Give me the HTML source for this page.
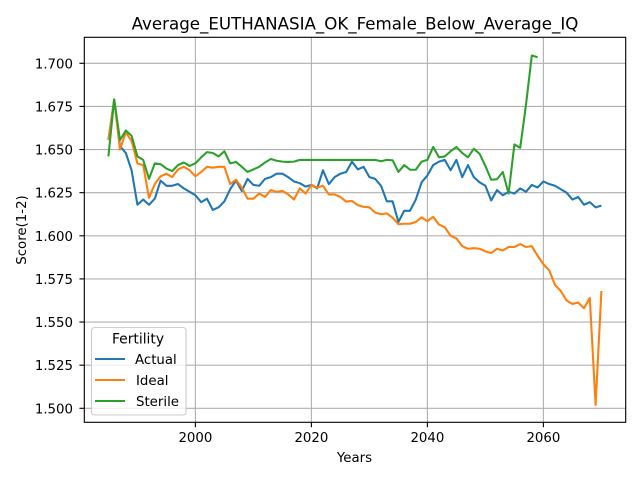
<!DOCTYPE html>
<html>
<head>
<meta charset="utf-8">
<style>
html,body{margin:0;padding:0;background:#fff;width:640px;height:480px;overflow:hidden}
svg{display:block;font-family:"DejaVu Sans","Liberation Sans",sans-serif;fill:#000}
</style>
</head>
<body>
<svg id="chart" width="640" height="480" viewBox="0 0 640 480" xmlns="http://www.w3.org/2000/svg">
<rect x="0" y="0" width="640" height="480" fill="#ffffff"/>
<g id="grid"></g>
<g id="series"></g>
<g id="axes"></g>
<text x="355" y="29.5" font-size="16.67" text-anchor="middle">Average_EUTHANASIA_OK_Female_Below_Average_IQ</text>
<text x="354.5" y="462" font-size="13.33" text-anchor="middle">Years</text>
<text transform="translate(26,230) rotate(-90)" font-size="13.33" text-anchor="middle">Score(1-2)</text>
<g id="legend">
<rect x="91.5" y="327.5" width="94.5" height="87.5" rx="3" ry="3" fill="#ffffff" fill-opacity="0.8" stroke="#cccccc" stroke-width="1.1"/>
<text x="138" y="343.5" font-size="13.89" text-anchor="middle">Fertility</text>
<line x1="95" x2="125" y1="359" y2="359" stroke="#1f77b4" stroke-width="2.08"/>
<text x="135" y="364" font-size="13.33">Actual</text>
<line x1="95" x2="125" y1="380" y2="380" stroke="#ff7f0e" stroke-width="2.08"/>
<text x="136" y="385" font-size="13.33">Ideal</text>
<line x1="95" x2="125" y1="401" y2="401" stroke="#2ca02c" stroke-width="2.08"/>
<text x="136" y="406" font-size="13.33">Sterile</text>
</g>
</svg>
<script>
var startYear = 1985;
var xTickValues = [2000, 2020, 2040, 2060];
var yTickValues = [1.500, 1.525, 1.550, 1.575, 1.600, 1.625, 1.650, 1.675, 1.700];
var actualValues = [1.6555,1.679,1.652,1.648,1.638,1.618,1.621,1.618,1.6215,1.632,1.629,1.629,1.630,1.6275,1.6255,1.6235,1.6195,1.6215,1.615,1.6165,1.620,1.627,1.632,1.626,1.633,1.6295,1.629,1.633,1.634,1.636,1.636,1.634,1.6315,1.6305,1.6285,1.6295,1.6275,1.638,1.630,1.634,1.636,1.637,1.643,1.6385,1.640,1.634,1.633,1.629,1.620,1.620,1.608,1.6145,1.6145,1.621,1.631,1.635,1.641,1.643,1.644,1.638,1.644,1.634,1.641,1.634,1.631,1.629,1.6205,1.6265,1.6235,1.6255,1.6245,1.6275,1.6255,1.6295,1.628,1.6315,1.630,1.629,1.627,1.625,1.621,1.6225,1.618,1.6195,1.6165,1.6175];
var idealValues = [1.6555,1.679,1.650,1.660,1.655,1.642,1.641,1.622,1.630,1.6345,1.636,1.634,1.6385,1.640,1.638,1.6345,1.637,1.640,1.6395,1.640,1.640,1.630,1.6325,1.628,1.6215,1.6215,1.6245,1.6225,1.6265,1.6255,1.626,1.624,1.621,1.6275,1.6245,1.6295,1.628,1.629,1.624,1.624,1.6225,1.6198,1.6202,1.6178,1.6168,1.6165,1.6135,1.6125,1.613,1.6105,1.6067,1.607,1.607,1.608,1.6107,1.6085,1.611,1.6065,1.605,1.600,1.5985,1.594,1.5925,1.5928,1.5925,1.591,1.590,1.5925,1.5915,1.5935,1.5935,1.5952,1.5935,1.594,1.5885,1.5835,1.580,1.5715,1.568,1.5625,1.5605,1.5613,1.558,1.564,1.502,1.568];
var sterileValues = [1.646,1.679,1.6555,1.661,1.658,1.646,1.644,1.633,1.642,1.6415,1.639,1.6375,1.641,1.6425,1.6405,1.642,1.6455,1.6485,1.648,1.646,1.649,1.642,1.6428,1.640,1.637,1.6385,1.640,1.6425,1.6445,1.6435,1.643,1.6428,1.643,1.644,1.644,1.644,1.644,1.644,1.644,1.644,1.644,1.644,1.644,1.644,1.644,1.644,1.644,1.6432,1.644,1.6438,1.637,1.641,1.6383,1.6383,1.643,1.644,1.6515,1.6455,1.646,1.649,1.6515,1.648,1.6455,1.6505,1.6475,1.6405,1.6325,1.6328,1.637,1.6245,1.653,1.651,1.676,1.7045,1.7035];

var NS = 'http://www.w3.org/2000/svg';
var plotLeft = 84.3, plotRight = 625.7, plotTop = 37.3, plotBottom = 422.3;

function xScale(year) { return 195.4 + (year - 2000) * 5.8; }
function yScale(v) { return 408.3 - (v - 1.5) * 1725; }

function make(tag, attrs, parent) {
  var el = document.createElementNS(NS, tag);
  for (var k in attrs) { el.setAttribute(k, attrs[k]); }
  parent.appendChild(el);
  return el;
}

var gridGroup = document.getElementById('grid');
var axesGroup = document.getElementById('axes');
var seriesGroup = document.getElementById('series');

xTickValues.forEach(function (t) {
  var x = xScale(t);
  var g = make('line', {x1: x, x2: x, y1: plotTop, y2: plotBottom, stroke: '#b0b0b0', 'stroke-width': 1.11}, gridGroup);
  
  
  var m = make('line', {x1: x, x2: x, y1: plotBottom, y2: plotBottom + 4.86, stroke: '#000', 'stroke-width': 1.11}, axesGroup);
  
  
  var l = make('text', {x: x, y: 442, 'font-size': 13.33, 'text-anchor': 'middle'}, axesGroup);
  
  
  l.textContent = String(t);
});

yTickValues.forEach(function (t) {
  var y = yScale(t);
  var g = make('line', {x1: plotLeft, x2: plotRight, y1: y, y2: y, stroke: '#b0b0b0', 'stroke-width': 1.11}, gridGroup);
  
  
  var m = make('line', {x1: plotLeft - 4.86, x2: plotLeft, y1: y, y2: y, stroke: '#000', 'stroke-width': 1.11}, axesGroup);
  
  
  var l = make('text', {x: 73, y: y + 5, 'font-size': 13.33, 'text-anchor': 'end'}, axesGroup);
  
  
  l.textContent = t.toFixed(3);
});

var spine = make('rect', {x: plotLeft, y: plotTop, width: plotRight - plotLeft, height: plotBottom - plotTop, fill: 'none', stroke: '#000', 'stroke-width': 1.11}, axesGroup);



function pointsFor(values) {
  return values.map(function (v, i) {
    return xScale(startYear + i).toFixed(2) + ',' + yScale(v).toFixed(2);
  }).join(' ');
}

var actualLine = make('polyline', {points: pointsFor(actualValues), fill: 'none', stroke: '#1f77b4', 'stroke-width': 2.08, 'stroke-linejoin': 'round'}, seriesGroup);



var idealLine = make('polyline', {points: pointsFor(idealValues), fill: 'none', stroke: '#ff7f0e', 'stroke-width': 2.08, 'stroke-linejoin': 'round'}, seriesGroup);



var sterileLine = make('polyline', {points: pointsFor(sterileValues), fill: 'none', stroke: '#2ca02c', 'stroke-width': 2.08, 'stroke-linejoin': 'round'}, seriesGroup);


</script>
</body>
</html>
